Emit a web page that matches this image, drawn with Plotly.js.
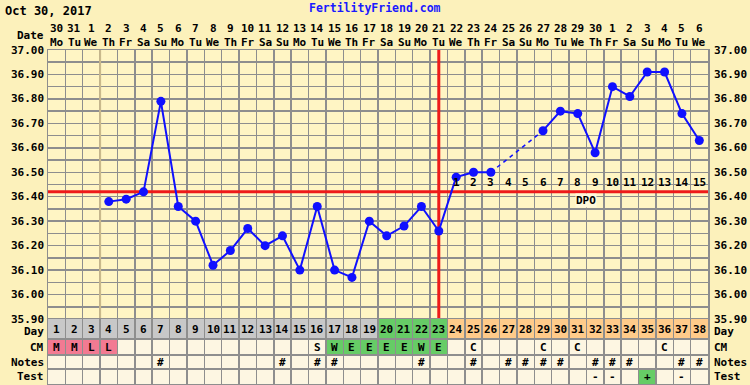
<!DOCTYPE html>
<html>
<head>
<meta charset="utf-8">
<script src="https://cdn.plot.ly/plotly-3.0.1.min.js"></script>
<style>
html,body{margin:0;padding:0;background:#fcf1bb;}
#chart{width:750px;height:385px;}
</style>
</head>
<body>
<div id="chart"></div>
<script>
// ---- data ----
const cycleDays = [1,2,3,4,5,6,7,8,9,10,11,12,13,14,15,16,17,18,19,20,21,22,23,24,25,26,27,28,29,30,31,32,33,34,35,36,37,38];
const dateNums = ['30','31','1','2','3','4','5','6','7','8','9','10','11','12','13','14','15','16','17','18','19','20','21','22','23','24','25','26','27','28','29','30','1','2','3','4','5','6'];
const weekdays = ['Mo','Tu','We','Th','Fr','Sa','Su','Mo','Tu','We','Th','Fr','Sa','Su','Mo','Tu','We','Th','Fr','Sa','Su','Mo','Tu','We','Th','Fr','Sa','Su','Mo','Tu','We','Th','Fr','Sa','Su','Mo','Tu','We'];
const temps = [null,null,null,36.38,36.39,36.42,36.79,36.36,36.30,36.12,36.18,36.27,36.20,36.24,36.10,36.36,36.10,36.07,36.30,36.24,36.28,36.36,36.26,36.48,36.50,36.50,null,null,36.67,36.75,36.74,36.58,36.85,36.81,36.91,36.91,36.74,36.63];
const cm    = ['M','M','L','L','','','','','','','','','','','','S','W','E','E','E','E','W','E','','C','','','','C','','C','','','','','C','',''];
const notes = ['','','','','','','#','','','','','','','#','','#','#','','','','','#','','','#','','#','#','#','#','','#','#','#','','','#','#'];
const tests = ['','','','','','','','','','','','','','','','','','','','','','','','','','','','','','','','-','-','','+','','-',''];
const fertileStart = 20;
const ovulationDay = 23;
const coverline = 36.42;
const tempTicks = ['37.00','36.90','36.80','36.70','36.60','36.50','36.40','36.30','36.20','36.10','36.00','35.90'];
const rowLabels = ['Day','CM','Notes','Test'];

// ---- styles ----
const FONT = 'DejaVu Sans Mono';
const GRID = '#8e8e8e';
const C_GREY = '#c8c8c8', C_GREEN = '#66cc66', C_ORANGE = '#ffcb8a', C_PINK = '#f27a92', C_CREAM = '#fdf6e2';
// row band boundaries on yaxis2 (units ~ px)
const ROWS = {Test:[0,15], Notes:[15,29], CM:[29,45], Day:[45,65]};
const mid = r => (ROWS[r][0]+ROWS[r][1])/2;

// ---- traces ----
const traces = [];
traces.push({
  x: cycleDays, y: temps, type:'scatter', mode:'lines+markers', connectgaps:false,
  line:{color:'#1010ff', width:2}, marker:{color:'#1010ff', size:9},
  xaxis:'x', yaxis:'y', hoverinfo:'skip'
});
// dashed bridges over missing temps
let first = temps.findIndex(v=>v!==null);
let last = temps.length-1; while(temps[last]===null) last--;
for(let i=first+1;i<last;i++){
  if(temps[i]===null && temps[i-1]!==null){
    let j=i; while(temps[j]===null) j++;
    traces.push({x:[cycleDays[i-1],cycleDays[j]], y:[temps[i-1],temps[j]], type:'scatter', mode:'lines',
      line:{color:'#1010ff', width:1.5, dash:'4px,4px'}, xaxis:'x', yaxis:'y', hoverinfo:'skip'});
  }
}
// dummy trace for y2 subplot
traces.push({x:[1], y:[-10], type:'scatter', mode:'markers', marker:{opacity:0}, xaxis:'x', yaxis:'y2', hoverinfo:'skip'});

// ---- shapes ----
const shapes = [];
shapes.push({type:'rect', xref:'x', yref:'y2', x0:0.5, x1:38.5, y0:0, y1:65, fillcolor:C_CREAM, line:{width:0}, layer:'below'});
cycleDays.forEach((d,i)=>{
  const dc = d<fertileStart ? C_GREY : (d<=ovulationDay ? C_GREEN : C_ORANGE);
  shapes.push({type:'rect', xref:'x', yref:'y2', x0:d-0.5, x1:d+0.5, y0:ROWS.Day[0], y1:ROWS.Day[1], fillcolor:dc, line:{width:0}, layer:'below'});
  let cc = null;
  if(cm[i]==='M'||cm[i]==='L') cc = C_PINK;
  if(cm[i]==='W'||cm[i]==='E') cc = C_GREEN;
  if(cc) shapes.push({type:'rect', xref:'x', yref:'y2', x0:d-0.5, x1:d+0.5, y0:ROWS.CM[0], y1:ROWS.CM[1], fillcolor:cc, line:{width:0}, layer:'below'});
  if(tests[i]==='+') shapes.push({type:'rect', xref:'x', yref:'y2', x0:d-0.5, x1:d+0.5, y0:ROWS.Test[0], y1:ROWS.Test[1], fillcolor:C_GREEN, line:{width:0}, layer:'below'});
});
// lighter vertical line
shapes.push({type:'line', xref:'x', yref:'y', x0:3.5, x1:3.5, y0:35.9, y1:37.0, line:{color:'#c9b98c', width:2}, layer:'between'});
// coverline & ovulation line
shapes.push({type:'line', xref:'x', yref:'y', x0:0.5, x1:38.5, y0:coverline, y1:coverline, line:{color:'#ee1a1a', width:3}, layer:'between'});
shapes.push({type:'line', xref:'x', yref:'y', x0:ovulationDay, x1:ovulationDay, y0:35.9, y1:37.0, line:{color:'#ee1a1a', width:3}, layer:'between'});

// ---- annotations ----
const PX_T = 50, PX_B = 384, PH = PX_B-PX_T, PL = 48, PR = 708, PW = PR-PL;
const py = y => (PX_B - y)/PH;
const px = x => (x - PL)/PW;
const ann = [];
const A = (o)=>ann.push(Object.assign({showarrow:false, font:{family:FONT, size:11, color:'#000', weight:'bold'}}, o));
A({text:'Oct 30, 2017', xref:'paper', yref:'paper', x:px(3), y:py(11), xanchor:'left', yanchor:'middle', font:{family:FONT,size:12,color:'#000',weight:'bold'}});
A({text:'FertilityFriend.com', xref:'paper', yref:'paper', x:px(375), y:py(8), xanchor:'center', yanchor:'middle', font:{family:FONT,size:11.5,color:'#1a1aff',weight:'bold'}});
A({text:'Date', xref:'paper', yref:'paper', x:px(46), y:py(35), xanchor:'right', yanchor:'middle'});
cycleDays.forEach((d,i)=>{
  A({text:dateNums[i], xref:'x', yref:'paper', x:d, y:py(28), xanchor:'center', yanchor:'middle'});
  A({text:weekdays[i], xref:'x', yref:'paper', x:d, y:py(42), xanchor:'center', yanchor:'middle'});
  A({text:String(d), xref:'x', yref:'y2', x:d, y:mid('Day'), xanchor:'center', yanchor:'middle'});
  if(cm[i]) A({text:cm[i], xref:'x', yref:'y2', x:d, y:mid('CM'), xanchor:'center', yanchor:'middle'});
  if(notes[i]) A({text:notes[i], xref:'x', yref:'y2', x:d, y:mid('Notes'), xanchor:'center', yanchor:'middle'});
  if(tests[i]) A({text:tests[i], xref:'x', yref:'y2', x:d, y:mid('Test'), xanchor:'center', yanchor:'middle'});
  if(d>ovulationDay) A({text:String(d-ovulationDay), xref:'x', yref:'y', x:d, y:36.457, xanchor:'center', yanchor:'middle'});
});
A({text:'DPO', xref:'x', yref:'y', x:31.5, y:36.383, xanchor:'center', yanchor:'middle', bgcolor:'#fff9dc', borderpad:0});
tempTicks.forEach(t=>{
  A({text:t, xref:'paper', yref:'y', x:px(46), y:parseFloat(t), xanchor:'right', yanchor:'middle'});
  A({text:t, xref:'paper', yref:'y', x:px(712), y:parseFloat(t), xanchor:'left', yanchor:'middle'});
});
rowLabels.forEach(r=>{
  const yy = r==='Day' ? mid(r)-2 : mid(r);
  A({text:r, xref:'paper', yref:'y2', x:px(46), y:yy, xanchor:'right', yanchor:'middle'});
  A({text:r, xref:'paper', yref:'y2', x:px(712), y:yy, xanchor:'left', yanchor:'middle'});
});

const layout = {
  width:750, height:385,
  margin:{l:PL, r:750-PR, t:PX_T, b:385-PX_B, pad:0},
  paper_bgcolor:'#fcf1bb', plot_bgcolor:'#fff5c4',
  showlegend:false,
  font:{family:FONT, size:11, color:'#000', weight:'bold'},
  xaxis:{range:[0.5,38.5], tickmode:'linear', tick0:0.5, dtick:1, showticklabels:false, ticks:'',
    showgrid:true, gridcolor:GRID, gridwidth:1.5, zeroline:false, showline:true, linecolor:GRID, linewidth:1.5, mirror:'all', fixedrange:true},
  yaxis:{domain:[65/PH,1], range:[35.9,37.0], tickmode:'linear', tick0:35.9, dtick:0.05, showticklabels:false, ticks:'',
    showgrid:true, gridcolor:GRID, gridwidth:1.5, zeroline:false, showline:true, linecolor:GRID, linewidth:1.5, mirror:'all', fixedrange:true},
  yaxis2:{domain:[0,65/PH], range:[0,65], tickmode:'array', tickvals:[15,29,45], showticklabels:false, ticks:'',
    showgrid:true, gridcolor:GRID, gridwidth:1.5, zeroline:false, showline:true, linecolor:GRID, linewidth:1.5, mirror:'all', fixedrange:true},
  shapes:shapes, annotations:ann
};
Plotly.newPlot('chart', traces, layout, {staticPlot:true, displayModeBar:false});
</script>
</body>
</html>
